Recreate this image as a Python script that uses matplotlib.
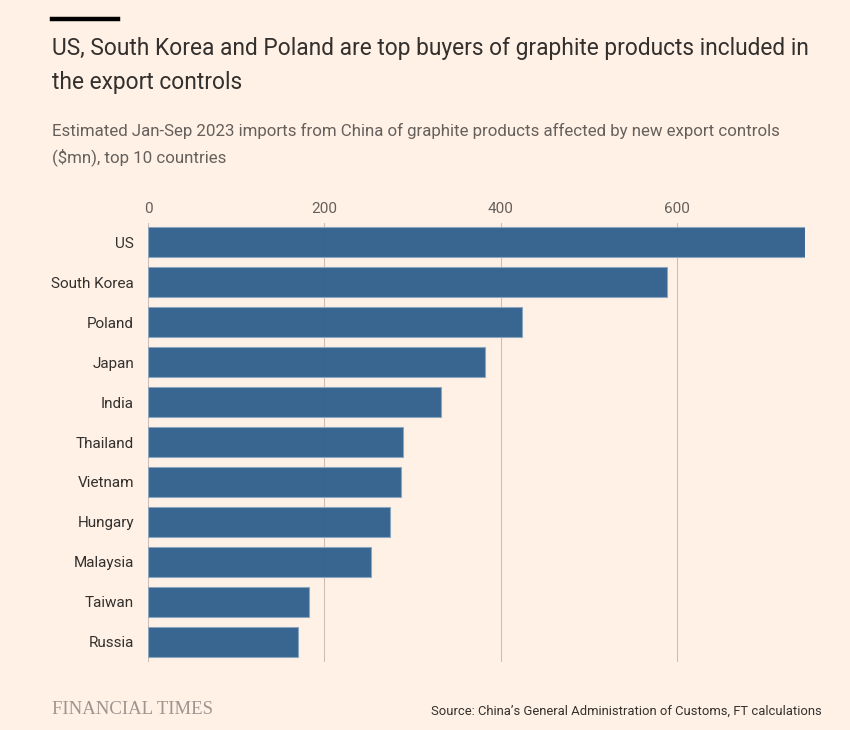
import matplotlib
matplotlib.use("Agg")
import matplotlib.pyplot as plt
from matplotlib.lines import Line2D

countries = ["US", "South Korea", "Poland", "Japan", "India", "Thailand",
             "Vietnam", "Hungary", "Malaysia", "Taiwan", "Russia"]
imports_mn = [745, 589, 424, 382, 332, 289, 287, 274, 253, 183, 170]
x_ticks = [0, 200, 400, 600]

BG = "#fff1e5"
BAR = "#2d5f8c"
TEXT = "#33302e"
GREY = "#66605c"

plt.rcParams["font.family"] = ["Roboto", "DejaVu Sans"]

fig = plt.figure(figsize=(8.5, 7.3), dpi=100, facecolor=BG)
W, H = 850, 730


def fx(px):
    return px / W


def fy(py):
    return 1 - py / H


ax = fig.add_axes([fx(148), fy(661.5), fx(805) - fx(148), fy(222.5) - fy(661.5)])
ax.set_facecolor(BG)

ypos = list(range(len(countries)))
ax.barh(ypos, imports_mn, height=0.75, color=BAR, alpha=0.95,
        edgecolor="#8aa6c2", linewidth=0.8, zorder=3)

ax.set_xlim(0, 745)
ax.set_ylim(len(countries) - 0.5, -0.5)
ax.set_yticks(ypos)
ax.set_yticklabels(countries, fontsize=11, color=TEXT)
ax.set_xticks(x_ticks)
ax.set_xticklabels([str(t) for t in x_ticks], fontsize=11, color=GREY)
ax.xaxis.tick_top()
ax.tick_params(axis="x", length=0, pad=5)
ax.tick_params(axis="y", length=0, pad=10)
for t in x_ticks:
    ax.axvline(t, color="black", alpha=0.2, lw=0.8, zorder=2)
for s in ax.spines.values():
    s.set_visible(False)

# header
fig.add_artist(Line2D([fx(52), fx(118)], [fy(19), fy(19)], color="black", lw=3.2))
fig.text(fx(52), fy(48), "US, South Korea and Poland are top buyers of graphite products included in",
         fontsize=16.4, color=TEXT, va="center", ha="left")
fig.text(fx(52), fy(82), "the export controls",
         fontsize=16.4, color=TEXT, va="center", ha="left")
fig.text(fx(52), fy(131), "Estimated Jan-Sep 2023 imports from China of graphite products affected by new export controls",
         fontsize=12.2, color=GREY, va="center", ha="left")
fig.text(fx(52), fy(157), "($mn), top 10 countries",
         fontsize=12.2, color=GREY, va="center", ha="left")

# footer
fig.text(fx(52), fy(710), "FINANCIAL TIMES", fontsize=13.5, color="#9e958f",
         family="Liberation Serif", va="center", ha="left")
fig.text(fx(822), fy(711), "Source: China\u2019s General Administration of Customs, FT calculations",
         fontsize=9.35, color=TEXT, va="center", ha="right")

fig.savefig("out.png", dpi=100, facecolor=BG)
